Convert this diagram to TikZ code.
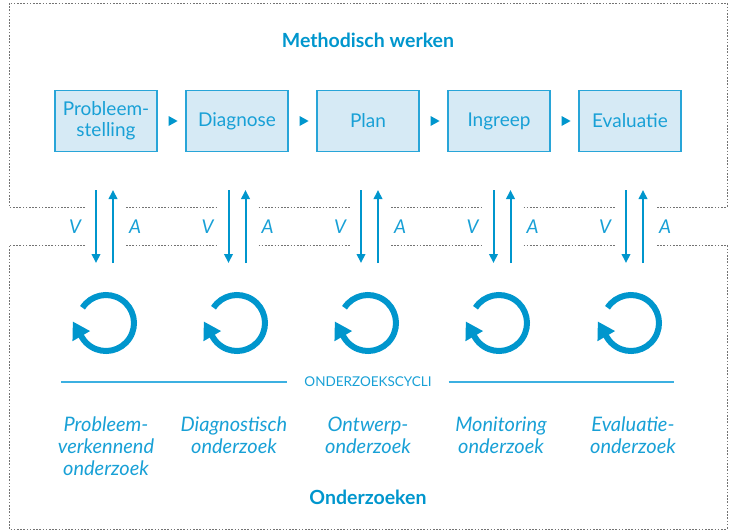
\documentclass[tikz,border=0pt]{standalone}
\usepackage{fontspec}
\setmainfont{Lato}
\usetikzlibrary{arrows.meta,shapes.geometric}

\definecolor{hoofd}{RGB}{0,150,205}
\definecolor{tekst}{RGB}{24,160,214}
\definecolor{boxfill}{RGB}{214,234,245}
\definecolor{boxline}{RGB}{40,165,216}
\definecolor{lijnblauw}{RGB}{60,176,225}

\begin{document}
\begin{tikzpicture}[x=1pt, y=-1pt,
    stap/.style={draw=boxline, fill=boxfill, line width=1.2pt, minimum width=102pt, minimum height=61pt, inner sep=0pt, align=center, text=tekst, font=\fontsize{19}{21}\selectfont},
    pijltje/.style={isosceles triangle, isosceles triangle stretches, fill=hoofd, minimum width=10pt, minimum height=9pt, inner sep=0pt},
    va/.style={draw=hoofd, line width=2pt, -{Triangle[length=9pt, width=8.5pt]}},
    valabel/.style={text=tekst, font=\itshape\fontsize{19}{20}\selectfont, inner sep=0pt},
    kring/.style={draw=hoofd, line width=6pt, -{Triangle[length=17pt, width=19pt]}},
    stippel/.style={draw=black!55, line width=0.9pt, dash pattern=on 1.6pt off 1.6pt},
    titel/.style={text=hoofd, font=\bfseries\fontsize{19.5}{21}\selectfont, inner sep=0pt},
    onderzoek/.style={text=tekst, font=\itshape\fontsize{20}{22}\selectfont, align=center, anchor=north, inner sep=0pt},
    lijn/.style={draw=lijnblauw, line width=1.5pt}
  ]
    \useasboundingbox (0,0) rectangle (731,531);

    % dotted frames
    \draw[stippel] (85,207) -- (9,207) -- (9,3) -- (727,3) -- (727,207) -- (656,207);
    \draw[stippel] (126,207) -- (217.5,207);
    \draw[stippel] (258.5,207) -- (350,207);
    \draw[stippel] (391,207) -- (482.5,207);
    \draw[stippel] (523.5,207) -- (615,207);
    \draw[stippel] (85,245) -- (9,245) -- (9,529) -- (727,529) -- (727,245) -- (656,245);
    \draw[stippel] (126,245) -- (217.5,245);
    \draw[stippel] (258.5,245) -- (350,245);
    \draw[stippel] (391,245) -- (482.5,245);
    \draw[stippel] (523.5,245) -- (615,245);

    \node[titel] (methodisch) at (368,40) {Methodisch werken};

    \node[stap] (probleemstelling) at (106,121) {Probleem-\\stelling};
    \node[stap] (diagnose) at (237,121) {Diagnose};
    \node[stap] (plan) at (368,121) {Plan};
    \node[stap] (ingreep) at (499,121) {Ingreep};
    \node[stap] (evaluatie) at (630,121) {Evaluatie};

    \node[pijltje] (p1) at (171.5,121) {};
    \node[pijltje] (p2) at (302.5,121) {};
    \node[pijltje] (p3) at (433.5,121) {};
    \node[pijltje] (p4) at (564.5,121) {};

    % V and A arrows
    \coordinate (v1a) at (96,190);    \coordinate (v1b) at (96,263);
    \coordinate (a1a) at (113,263);   \coordinate (a1b) at (113,190);
    \coordinate (v2a) at (228.5,190); \coordinate (v2b) at (228.5,263);
    \coordinate (a2a) at (245.5,263); \coordinate (a2b) at (245.5,190);
    \coordinate (v3a) at (361,190);   \coordinate (v3b) at (361,263);
    \coordinate (a3a) at (378,263);   \coordinate (a3b) at (378,190);
    \coordinate (v4a) at (493.5,190); \coordinate (v4b) at (493.5,263);
    \coordinate (a4a) at (510.5,263); \coordinate (a4b) at (510.5,190);
    \coordinate (v5a) at (626,190);   \coordinate (v5b) at (626,263);
    \coordinate (a5a) at (643,263);   \coordinate (a5b) at (643,190);

    \draw[va] (v1a) -- (v1b);
    \draw[va] (a1a) -- (a1b);
    \draw[va] (v2a) -- (v2b);
    \draw[va] (a2a) -- (a2b);
    \draw[va] (v3a) -- (v3b);
    \draw[va] (a3a) -- (a3b);
    \draw[va] (v4a) -- (v4b);
    \draw[va] (a4a) -- (a4b);
    \draw[va] (v5a) -- (v5b);
    \draw[va] (a5a) -- (a5b);

    \node[valabel] (v1) at (75,227) {V};
    \node[valabel] (a1) at (135,227) {A};
    \node[valabel] (v2) at (207.5,227) {V};
    \node[valabel] (a2) at (267.5,227) {A};
    \node[valabel] (v3) at (340,227) {V};
    \node[valabel] (a3) at (400,227) {A};
    \node[valabel] (v4) at (472.5,227) {V};
    \node[valabel] (a4) at (532.5,227) {A};
    \node[valabel] (v5) at (605,227) {V};
    \node[valabel] (a5) at (665,227) {A};

    % cycles
    \coordinate (c1) at (106,323);
    \coordinate (c2) at (237,323);
    \coordinate (c3) at (368,323);
    \coordinate (c4) at (499,323);
    \coordinate (c5) at (631,323);
    \draw[kring] (c1) ++(-147:28) arc[start angle=-147, end angle=150, radius=28] -- ++(240:18);
    \draw[kring] (c2) ++(-147:28) arc[start angle=-147, end angle=150, radius=28] -- ++(240:18);
    \draw[kring] (c3) ++(-147:28) arc[start angle=-147, end angle=150, radius=28] -- ++(240:18);
    \draw[kring] (c4) ++(-147:28) arc[start angle=-147, end angle=150, radius=28] -- ++(240:18);
    \draw[kring] (c5) ++(-147:28) arc[start angle=-147, end angle=150, radius=28] -- ++(240:18);

    \node[text=tekst, font=\fontsize{13.5}{15}\selectfont, inner xsep=17pt] (cycli) at (368,382) {ONDERZOEKSCYCLI};
    \coordinate (l0) at (61,382);
    \coordinate (l1) at (674,382);
    \draw[lijn] (l0) -- (cycli);
    \draw[lijn] (cycli) -- (l1);

    \node[onderzoek] (o1) at (106,417) {Probleem-\\verkennend\\onderzoek};
    \node[onderzoek] (o2) at (234,417) {Diagnostisch\\onderzoek};
    \node[onderzoek] (o3) at (368,417) {Ontwerp-\\onderzoek};
    \node[onderzoek] (o4) at (501,417) {Monitoring\\onderzoek};
    \node[onderzoek] (o5) at (633,417) {Evaluatie-\\onderzoek};

    \node[titel] (onderzoeken) at (368,497) {Onderzoeken};
\end{tikzpicture}
\end{document}
